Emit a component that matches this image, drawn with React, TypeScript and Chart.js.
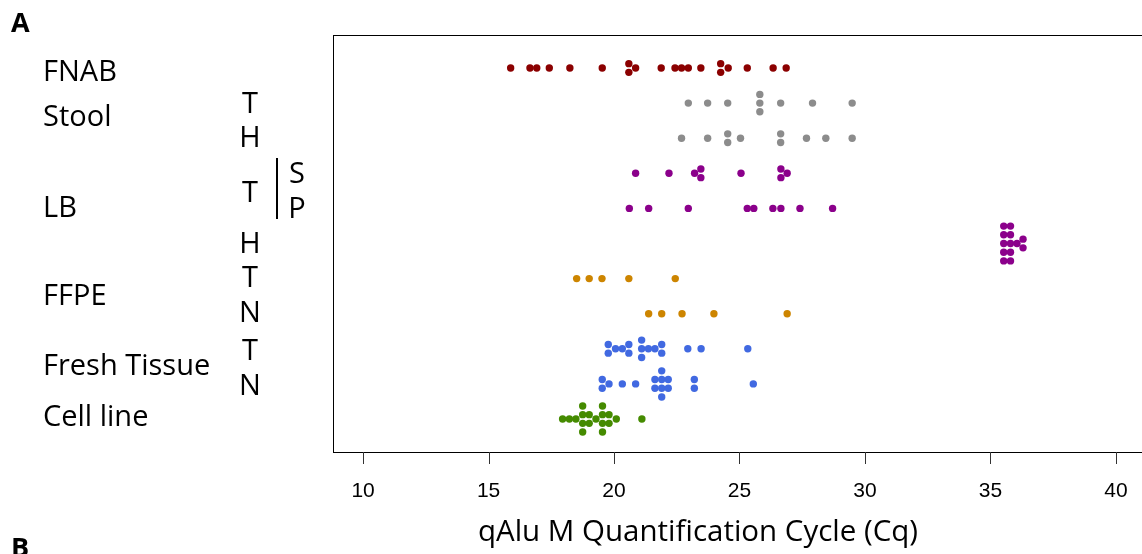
import { useEffect, useRef } from "react";
import { Chart, registerables } from "chart.js";

Chart.register(...registerables);

// ---- axis ----
const X_TICKS = [10, 15, 20, 25, 30, 35, 40];
const X_MIN = 8.8;
const X_MAX = 41.2;
const Y_MIN = 0.06;
const Y_MAX = 11.94;

// ---- row positions (1 = bottom) ----
const ROW_FNAB = 11;
const ROW_STOOL_T = 10;
const ROW_STOOL_H = 9;
const ROW_LB_TS = 8;
const ROW_LB_TP = 7;
const ROW_LB_H = 6;
const ROW_FFPE_T = 5;
const ROW_FFPE_N = 4;
const ROW_FRESH_T = 3;
const ROW_FRESH_N = 2;
const ROW_CELL = 1;

// ---- Cq values (repeated values form a vertical stack) ----
const FNAB = [15.88, 16.65, 16.92, 17.42, 18.24, 19.53, 20.59, 20.59, 20.86, 21.88, 22.43, 22.69, 22.96, 23.46, 24.25, 24.25, 24.55, 25.31, 26.34, 26.86];
const STOOL_T = [22.96, 23.73, 24.53, 25.81, 25.81, 25.81, 26.64, 27.91, 29.49];
const STOOL_H = [22.69, 23.73, 24.53, 24.53, 25.04, 26.64, 26.64, 27.67, 28.44, 29.49];
const LB_TS = [20.86, 22.19, 23.21, 23.46, 23.46, 25.06, 26.65, 26.65, 26.9];
const LB_TP = [20.61, 21.38, 22.96, 25.31, 25.57, 26.33, 26.65, 27.41, 28.71];
const LB_H = [35.53, 35.53, 35.53, 35.53, 35.53, 35.8, 35.8, 35.8, 35.8, 35.8, 36.06, 36.3, 36.3];
const FFPE_T = [18.51, 19.01, 19.52, 20.59, 22.44];
const FFPE_N = [21.38, 21.9, 22.71, 23.98, 26.9];
const FRESH_T = [19.77, 19.77, 20.06, 20.33, 20.59, 20.59, 21.1, 21.1, 21.1, 21.37, 21.63, 21.9, 21.9, 22.94, 23.47, 25.33];
const FRESH_N = [19.53, 19.53, 19.8, 20.33, 20.86, 21.63, 21.63, 21.9, 21.9, 21.9, 21.9, 22.16, 22.16, 23.2, 23.2, 25.55];
const CELL = [17.95, 18.22, 18.48, 18.75, 18.75, 18.75, 18.75, 19.01, 19.01, 19.28, 19.54, 19.54, 19.54, 19.54, 19.8, 19.8, 20.09, 21.11];

const C_FNAB = "#8B0000";
const C_STOOL = "#8C8C8C";
const C_LB = "#8B008B";
const C_FFPE = "#CD8500";
const C_FRESH = "#4169E1";
const C_CELL = "#458B00";

const SERIES: [string, number[], number, string][] = [
  ["FNAB", FNAB, ROW_FNAB, C_FNAB],
  ["Stool T", STOOL_T, ROW_STOOL_T, C_STOOL],
  ["Stool H", STOOL_H, ROW_STOOL_H, C_STOOL],
  ["LB T S", LB_TS, ROW_LB_TS, C_LB],
  ["LB T P", LB_TP, ROW_LB_TP, C_LB],
  ["LB H", LB_H, ROW_LB_H, C_LB],
  ["FFPE T", FFPE_T, ROW_FFPE_T, C_FFPE],
  ["FFPE N", FFPE_N, ROW_FFPE_N, C_FFPE],
  ["Fresh Tissue T", FRESH_T, ROW_FRESH_T, C_FRESH],
  ["Fresh Tissue N", FRESH_N, ROW_FRESH_N, C_FRESH],
  ["Cell line", CELL, ROW_CELL, C_CELL],
];

const STACK_STEP = 8.7; // px between stacked points

const swarmPlugin = {
  id: "centerSwarm",
  afterDatasetsUpdate(chart: any) {
    chart.data.datasets.forEach((ds: any, i: number) => {
      const meta = chart.getDatasetMeta(i);
      const groups = new Map<string, number[]>();
      ds.data.forEach((p: any, j: number) => {
        const key = p.x.toFixed(2);
        if (!groups.has(key)) groups.set(key, []);
        groups.get(key)!.push(j);
      });
      groups.forEach((idx) => {
        const n = idx.length;
        idx.forEach((j, k) => {
          const el = meta.data[j];
          if (el) el.y = el.y + (k - (n - 1) / 2) * STACK_STEP;
        });
      });
    });
  },
};

const decorPlugin = {
  id: "decor",
  afterDraw(chart: any) {
    const ctx = chart.ctx;
    const a = chart.chartArea;
    const xs = chart.scales.x;
    ctx.save();
    ctx.strokeStyle = "#000";
    ctx.lineWidth = 1;
    ctx.strokeRect(Math.round(a.left) + 0.5, Math.round(a.top) + 0.5, a.right - a.left, a.bottom - a.top);

    // tick marks
    ctx.strokeStyle = "#333";
    ctx.beginPath();
    X_TICKS.forEach((v) => {
      const px = Math.round(xs.getPixelForValue(v)) + 0.5;
      ctx.moveTo(px, a.bottom);
      ctx.lineTo(px, a.bottom + 12);
    });
    ctx.stroke();

    ctx.fillStyle = "#000";
    ctx.textBaseline = "alphabetic";
    ctx.font = "bold 27px 'Open Sans'";
    ctx.textAlign = "left";
    ctx.fillText("A", 11, 32);
    ctx.fillText("B", 11, 557);

    ctx.font = "29px 'Open Sans'";
    const left: [string, number][] = [
      ["FNAB", 81],
      ["Stool", 126],
      ["LB", 217],
      ["FFPE", 305],
      ["Fresh Tissue", 375],
      ["Cell line", 426],
    ];
    left.forEach(([t, y]) => ctx.fillText(t, 43, y));

    ctx.textAlign = "center";
    const mid: [string, number, number][] = [
      ["T", 250, 113],
      ["H", 250, 147],
      ["T", 250, 202],
      ["H", 250, 253],
      ["T", 250, 287],
      ["N", 250, 322],
      ["T", 250, 360],
      ["N", 250, 395],
      ["S", 297, 183],
      ["P", 297, 218],
    ];
    mid.forEach(([t, x, y]) => ctx.fillText(t, x, y));

    ctx.strokeStyle = "#000";
    ctx.lineWidth = 2;
    ctx.beginPath();
    ctx.moveTo(277, 158);
    ctx.lineTo(277, 219);
    ctx.stroke();

    ctx.font = "29.5px 'Open Sans'";
    ctx.fillText("qAlu M Quantification Cycle (Cq)", 698, 541);
    ctx.restore();
  },
};

export default function App() {
  const ref = useRef<HTMLCanvasElement | null>(null);
  useEffect(() => {
    document.body.style.margin = "0";
    const canvas = ref.current!;
    const chart = new Chart(canvas, {
      type: "scatter",
      data: {
        datasets: SERIES.map(([label, vals, row, color]) => ({
          label,
          data: vals.map((v) => ({ x: v, y: row })),
          backgroundColor: color,
          borderWidth: 0,
          pointRadius: 3.7,
          pointHoverRadius: 3.7,
        })),
      },
      options: {
        animation: false,
        responsive: false,
        events: [],
        layout: { padding: { left: 333, right: 14, top: 35, bottom: 0 } },
        plugins: { legend: { display: false }, tooltip: { enabled: false } },
        scales: {
          x: {
            type: "linear",
            min: X_MIN,
            max: X_MAX,
            afterBuildTicks: (s: any) => {
              s.ticks = X_TICKS.map((v) => ({ value: v }));
            },
            afterFit: (s: any) => {
              s.height = 102;
            },
            border: { display: false },
            grid: { display: true, drawOnChartArea: false, drawTicks: true, tickLength: 12, color: "rgba(0,0,0,0)" },
            ticks: {
              padding: 15,
              color: "#000",
              font: { family: "'Liberation Sans', Arial", size: 21 },
              maxRotation: 0,
              autoSkip: false,
            },
          },
          y: {
            type: "linear",
            display: false,
            min: Y_MIN,
            max: Y_MAX,
          },
        },
      },
      plugins: [swarmPlugin, decorPlugin],
    });
    return () => chart.destroy();
  }, []);
  return (
    <div style={{ position: "fixed", left: 0, top: 0, width: 1142, height: 554, overflow: "hidden", background: "#fff" }}>
      <canvas ref={ref} width={1160} height={554} style={{ display: "block", width: 1160, height: 554 }} />
    </div>
  );
}
